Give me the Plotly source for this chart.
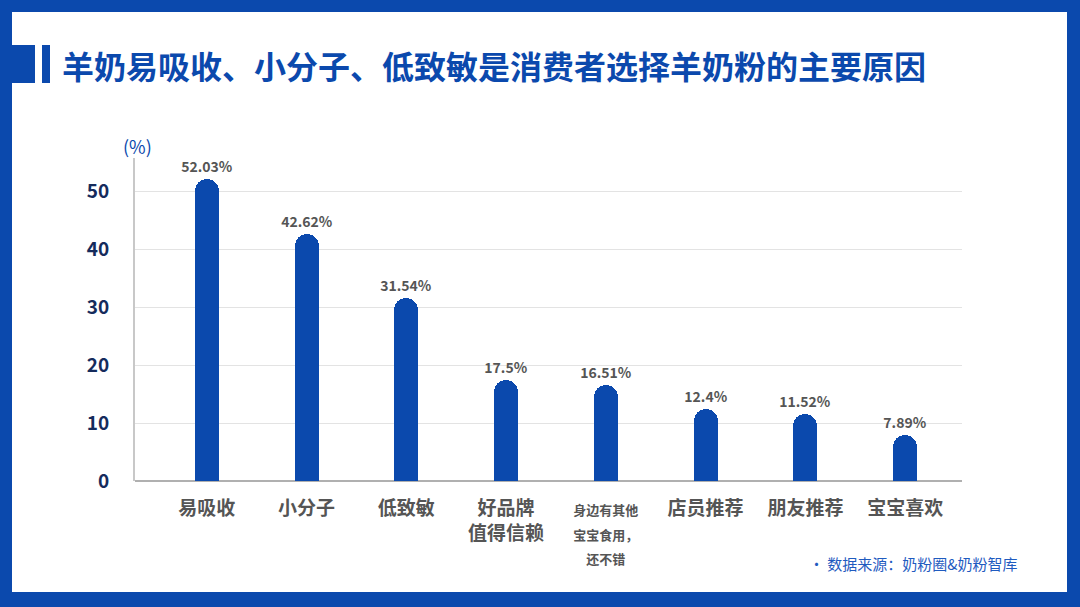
import plotly.graph_objects as go

categories = ['易吸收', '小分子', '低致敏', '好品牌<br>值得信赖', '身边有其他<br>宝宝食用，<br>还不错', '店员推荐', '朋友推荐', '宝宝喜欢']
values = [52.03, 42.62, 31.54, 17.5, 16.51, 12.4, 11.52, 7.89]
labels = ['52.03%', '42.62%', '31.54%', '17.5%', '16.51%', '12.4%', '11.52%', '7.89%']

W, H = 1080, 607
L, R, T, B = 135, 118, 158, 126
BLUE = '#0b49ad'
FONT = 'Noto Sans CJK SC'


def px_x(x):
    return (x - L) / (W - L - R)


def px_y(y):
    return (H - B - y) / (H - T - B)


fig = go.Figure(go.Bar(
    x=list(range(len(categories))), y=values, text=labels,
    textposition='outside', cliponaxis=False, constraintext='none',
    textfont=dict(family=FONT, size=14, color='#555555', weight='bold'),
    marker=dict(color=BLUE, cornerradius=12, line_width=0),
    width=0.24,
))

shapes = [
    dict(type='rect', xref='paper', yref='paper', layer='below',
         x0=px_x(12), x1=px_x(1067), y0=px_y(592), y1=px_y(12),
         fillcolor='white', line_width=0),
    dict(type='rect', xref='paper', yref='paper',
         x0=px_x(12), x1=px_x(35), y0=px_y(83), y1=px_y(45),
         fillcolor=BLUE, line_width=0),
    dict(type='rect', xref='paper', yref='paper',
         x0=px_x(42), x1=px_x(50), y0=px_y(83), y1=px_y(45),
         fillcolor=BLUE, line_width=0),
]

annotations = [
    dict(text='羊奶易吸收、小分子、低致敏是消费者选择羊奶粉的主要原因',
         xref='paper', yref='paper', x=px_x(60), y=px_y(65),
         xanchor='left', yanchor='middle', showarrow=False,
         font=dict(family=FONT, size=32, color=BLUE, weight='bold')),
    dict(text='(%)', xref='paper', yref='paper', x=px_x(137), y=px_y(146),
         xanchor='center', yanchor='middle', showarrow=False,
         font=dict(family=FONT, size=18, color=BLUE)),
    dict(text='· 数据来源：奶粉圈&奶粉智库', xref='paper', yref='paper',
         x=px_x(1020), y=px_y(563), xanchor='right', yanchor='middle',
         showarrow=False, font=dict(family=FONT, size=15, color='#1f5bbf')),
]

tick_text = []
for c in categories:
    if c.count('<br>') >= 2:
        tick_text.append('<span style="font-size:13px">' + c + '</span>')
    else:
        tick_text.append(c)

fig.update_layout(
    width=W, height=H,
    margin=dict(l=L, r=R, t=T, b=B),
    paper_bgcolor=BLUE, plot_bgcolor='rgba(0,0,0,0)',
    showlegend=False, bargap=0,
    shapes=shapes, annotations=annotations,
    xaxis=dict(tickvals=list(range(len(categories))), ticktext=tick_text,
               range=[-0.72, 7.57], showgrid=False, zeroline=False,
               showline=False, ticks='', ticklabelstandoff=14,
               tickfont=dict(family=FONT, size=19, color='#555555', weight='bold')),
    yaxis=dict(range=[0, 55.7], tickvals=[0, 10, 20, 30, 40, 50],
               showgrid=True, gridcolor='#e3e3e3', gridwidth=1,
               zeroline=True, zerolinecolor='#b0b0b0', zerolinewidth=2,
               showline=True, linecolor='#c8c8c8', linewidth=2,
               ticks='', ticklabelstandoff=20,
               tickfont=dict(family=FONT, size=19, color='#152b5c', weight='bold')),
)

fig.write_html('out.html', config={'displayModeBar': False},
               post_script="document.body.style.margin='0';")
